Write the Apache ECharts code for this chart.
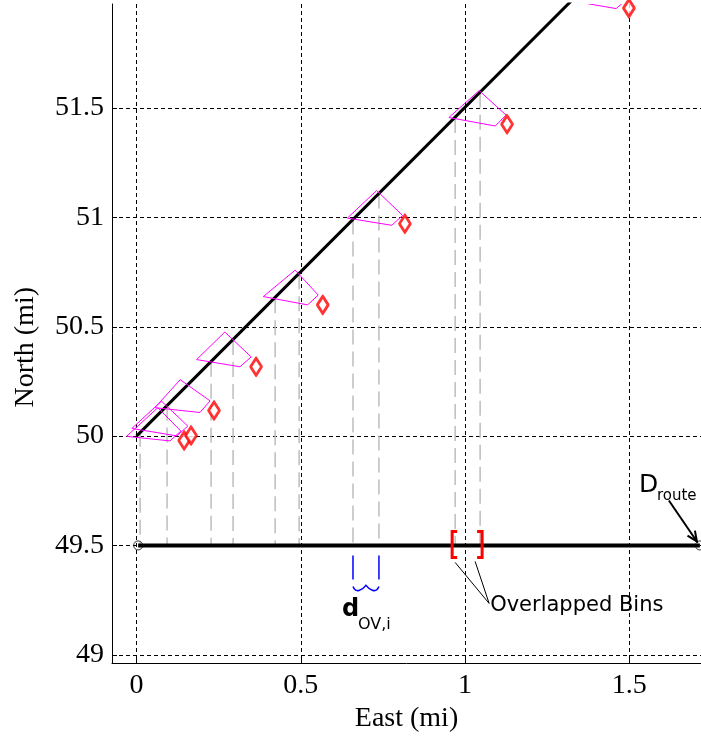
<!DOCTYPE html>
<html>
<head>
<meta charset="utf-8">
<script src="https://cdn.jsdelivr.net/npm/echarts@6/dist/echarts.min.js"></script>
<style>
html,body{margin:0;padding:0;background:#fff;}
#chart{width:701px;height:738px;}
</style>
</head>
<body>
<div id="chart"></div>
<script>
// Route centreline (East, North in miles)
const routeEast = [0, 1.33];
const routeNorth = [50, 52.0];

// Route unrolled onto the along-track line
const trackEast = [0.005, 1.715];
const trackNorth = 49.5;

// Sensor footprints, vertices as [East, North]
const footprints = [
  [[-0.030, 49.999], [0.065, 50.130], [0.135, 50.023], [0.102, 49.978]],
  [[-0.014, 50.035], [0.076, 50.160], [0.156, 50.046], [0.123, 50.001]],
  [[0.056, 50.130], [0.133, 50.258], [0.224, 50.161], [0.193, 50.108]],
  [[0.183, 50.350], [0.269, 50.476], [0.349, 50.362], [0.315, 50.317]],
  [[0.386, 50.638], [0.483, 50.759], [0.553, 50.645], [0.521, 50.600]],
  [[0.642, 50.997], [0.731, 51.123], [0.810, 51.009], [0.777, 50.964]],
  [[0.951, 51.457], [1.043, 51.580], [1.125, 51.468], [1.092, 51.418]],
  [[1.325, 51.990], [1.415, 52.115], [1.495, 52.000], [1.460, 51.955]]
];

// Detector locations
const detectorEast  = [0.145, 0.166, 0.236, 0.364, 0.567, 0.817, 1.128, 1.499];
const detectorNorth = [49.980, 50.003, 50.117, 50.317, 50.600, 50.971, 51.426, 51.957];

// Entry / exit of the route through each footprint (bin edges)
const binEast  = [[0.011, 0.093], [0.227, 0.294], [0.422, 0.495], [0.659, 0.738], [0.970, 1.046]];
const binNorth = [[50.02, 50.14], [50.34, 50.44], [50.63, 50.74], [50.99, 51.11], [51.455, 51.57]];

// Which bins carry the annotations
const overlapBin = 4;
const spacingBin = 3;

// Tick labels
const xTicks = [0, 0.5, 1, 1.5];
const yTicks = [49, 49.5, 50, 50.5, 51, 51.5];

const serif = 'Liberation Serif';
const sans = 'DejaVu Sans';

const chart = echarts.init(document.getElementById('chart'), null, {renderer: 'canvas'});

const edgePoints = [];
binEast.forEach((pair, i) => pair.forEach((e, j) => edgePoints.push([e, binNorth[i][j]])));

const option = {
  animation: false,
  backgroundColor: '#fff',
  grid: {left: 112, top: 4, right: 0, bottom: 71, containLabel: false},
  graphic: [{
    type: 'text', left: 12, top: 287, rotation: Math.PI / 2,
    style: {text: 'North (mi)', fontFamily: serif, fontSize: 28, fill: '#000'}
  }],
  xAxis: {
    type: 'value', min: -0.0746, max: 1.7184,
    name: 'East (mi)', nameLocation: 'middle', nameGap: 36,
    nameTextStyle: {fontFamily: serif, fontSize: 28, color: '#000'},
    axisLine: {show: true, onZero: false, lineStyle: {color: '#000', width: 1}},
    axisTick: {show: true, inside: true, length: 5, customValues: xTicks, lineStyle: {color: '#000'}},
    axisLabel: {customValues: xTicks, fontFamily: serif, fontSize: 28, color: '#000', margin: 9,
      formatter: v => String(v)},
    splitLine: {show: true, lineStyle: {color: '#000', width: 1, type: [4, 3]}}
  },
  yAxis: {
    type: 'value', min: 48.962, max: 51.976,
    axisLine: {show: true, onZero: false, lineStyle: {color: '#000', width: 1}},
    axisTick: {show: true, inside: true, length: 5, customValues: yTicks, lineStyle: {color: '#000'}},
    axisLabel: {customValues: yTicks, fontFamily: serif, fontSize: 28, color: '#000', margin: 8,
      formatter: v => String(v)},
    splitLine: {show: true, lineStyle: {color: '#000', width: 1, type: [4, 3]}}
  },
  series: [
    {
      // route end markers, drawn under the thick track line
      type: 'scatter', z: 3,
      data: trackEast.map(e => [e, trackNorth]),
      symbol: 'circle', symbolSize: 9,
      itemStyle: {color: 'rgba(255,255,255,0)', borderColor: '#000', borderWidth: 1}
    },
    {
      // projections of the bin edges down to the along-track line
      type: 'custom', z: 2, clip: true,
      data: edgePoints,
      renderItem: (params, api) => {
        const top = api.coord([api.value(0), api.value(1)]);
        const bot = api.coord([api.value(0), trackNorth]);
        return {type: 'line', shape: {x1: top[0], y1: top[1], x2: bot[0], y2: bot[1]},
          style: {stroke: '#bdbdbd', lineWidth: 1.5, lineDash: [15, 7]}};
      }
    },
    {
      type: 'line', z: 4,
      data: trackEast.map(e => [e, trackNorth]),
      lineStyle: {color: '#000', width: 4},
      symbol: 'none'
    },
    {
      type: 'line', z: 4, clip: true,
      data: routeEast.map((e, i) => [e, routeNorth[i]]),
      lineStyle: {color: '#000', width: 3},
      symbol: 'none'
    },
    {
      type: 'custom', z: 5, clip: true,
      data: footprints.map(p => p[0]),
      renderItem: (params, api) => {
        const pts = footprints[params.dataIndex].map(v => api.coord(v));
        return {type: 'polygon', shape: {points: pts},
          style: {fill: 'none', stroke: '#ff00ff', lineWidth: 1}};
      }
    },
    {
      type: 'scatter', z: 6,
      data: detectorEast.map((e, i) => [e, detectorNorth[i]]),
      symbol: 'diamond', symbolSize: [11, 17],
      itemStyle: {color: '#fff', borderColor: '#ff0000', borderWidth: 3, borderJoin: 'round'}
    },
    {
      // bracket marks on the along-track line
      type: 'custom', z: 7, clip: false,
      data: [[binEast[overlapBin][0], trackNorth]],
      renderItem: (params, api) => {
        const a = api.coord([binEast[overlapBin][0], trackNorth]);
        const b = api.coord([binEast[overlapBin][1], trackNorth]);
        const c = api.coord([binEast[spacingBin][0], trackNorth]);
        const d = api.coord([binEast[spacingBin][1], trackNorth]);
        const red = {stroke: '#ff0000', lineWidth: 3, fill: 'none'};
        const blue = {stroke: '#0000ff', lineWidth: 1.5, fill: 'none'};
        const by = c[1] + 44;
        const mid = (c[0] + d[0]) / 2;
        return {type: 'group', children: [
          {type: 'polyline', shape: {points: [[a[0] + 2, a[1] - 14], [a[0] - 3, a[1] - 14], [a[0] - 3, a[1] + 12], [a[0] + 2, a[1] + 12]]}, style: red},
          {type: 'polyline', shape: {points: [[b[0] - 3, b[1] - 14], [b[0] + 2, b[1] - 14], [b[0] + 2, b[1] + 12], [b[0] - 3, b[1] + 12]]}, style: red},
          {type: 'line', shape: {x1: c[0], y1: c[1] + 10, x2: c[0], y2: c[1] + 34}, style: blue},
          {type: 'line', shape: {x1: d[0], y1: d[1] + 10, x2: d[0], y2: d[1] + 34}, style: blue},
          {type: 'path', shape: {pathData:
            'M' + c[0] + ' ' + (by - 3) + ' Q' + (c[0] + 2) + ' ' + (by + 2) + ' ' + (c[0] + 6) + ' ' + (by + 1) +
            ' Q' + (mid - 2) + ' ' + (by - 1) + ' ' + mid + ' ' + (by - 4) +
            ' Q' + (mid + 2) + ' ' + (by - 1) + ' ' + (d[0] - 6) + ' ' + (by + 1) +
            ' Q' + (d[0] - 2) + ' ' + (by + 2) + ' ' + d[0] + ' ' + (by - 3)}, style: blue},
          // leaders to the "Overlapped Bins" label
          {type: 'line', shape: {x1: a[0], y1: a[1] + 17, x2: a[0] + 34, y2: a[1] + 58}, style: {stroke: '#000', lineWidth: 1}},
          {type: 'line', shape: {x1: b[0] - 5, y1: b[1] + 16, x2: a[0] + 34, y2: a[1] + 58}, style: {stroke: '#000', lineWidth: 1}},
          {type: 'text', style: {text: 'Overlapped Bins', x: a[0] + 35, y: a[1] + 60, fontFamily: sans, fontSize: 21, fill: '#000', verticalAlign: 'middle'}},
          {type: 'text', style: {text: 'd', x: c[0] - 11, y: c[1] + 76, fontFamily: sans, fontWeight: 'bold', fontSize: 24, fill: '#000', verticalAlign: 'bottom'}},
          {type: 'text', style: {text: 'OV,i', x: c[0] + 5, y: c[1] + 87, fontFamily: sans, fontSize: 16, fill: '#000', verticalAlign: 'bottom'}}
        ]};
      }
    },
    {
      // end-of-route annotation
      type: 'custom', z: 7, clip: false,
      data: [[trackEast[1], trackNorth]],
      renderItem: (params, api) => {
        const p = api.coord([trackEast[1], trackNorth]);
        const tip = [p[0] - 3, p[1] - 4];
        const tail = [p[0] - 31, p[1] - 45];
        const ang = Math.atan2(tip[1] - tail[1], tip[0] - tail[0]);
        const L = 11, W = 0.42;
        const w1 = [tip[0] - L * Math.cos(ang - W), tip[1] - L * Math.sin(ang - W)];
        const w2 = [tip[0] - L * Math.cos(ang + W), tip[1] - L * Math.sin(ang + W)];
        return {type: 'group', children: [
          {type: 'line', shape: {x1: tail[0], y1: tail[1], x2: tip[0], y2: tip[1]}, style: {stroke: '#000', lineWidth: 2}},
          {type: 'polyline', shape: {points: [w1, tip, w2]}, style: {stroke: '#000', lineWidth: 2, fill: 'none'}},
          {type: 'text', style: {text: 'D', x: p[0] - 61, y: p[1] - 47, fontFamily: sans, fontSize: 25, fill: '#000', verticalAlign: 'bottom'}},
          {type: 'text', style: {text: 'route', x: p[0] - 43, y: p[1] - 42, fontFamily: sans, fontSize: 15, fill: '#000', verticalAlign: 'bottom'}}
        ]};
      }
    }
  ]
};

chart.setOption(option);
</script>
</body>
</html>
